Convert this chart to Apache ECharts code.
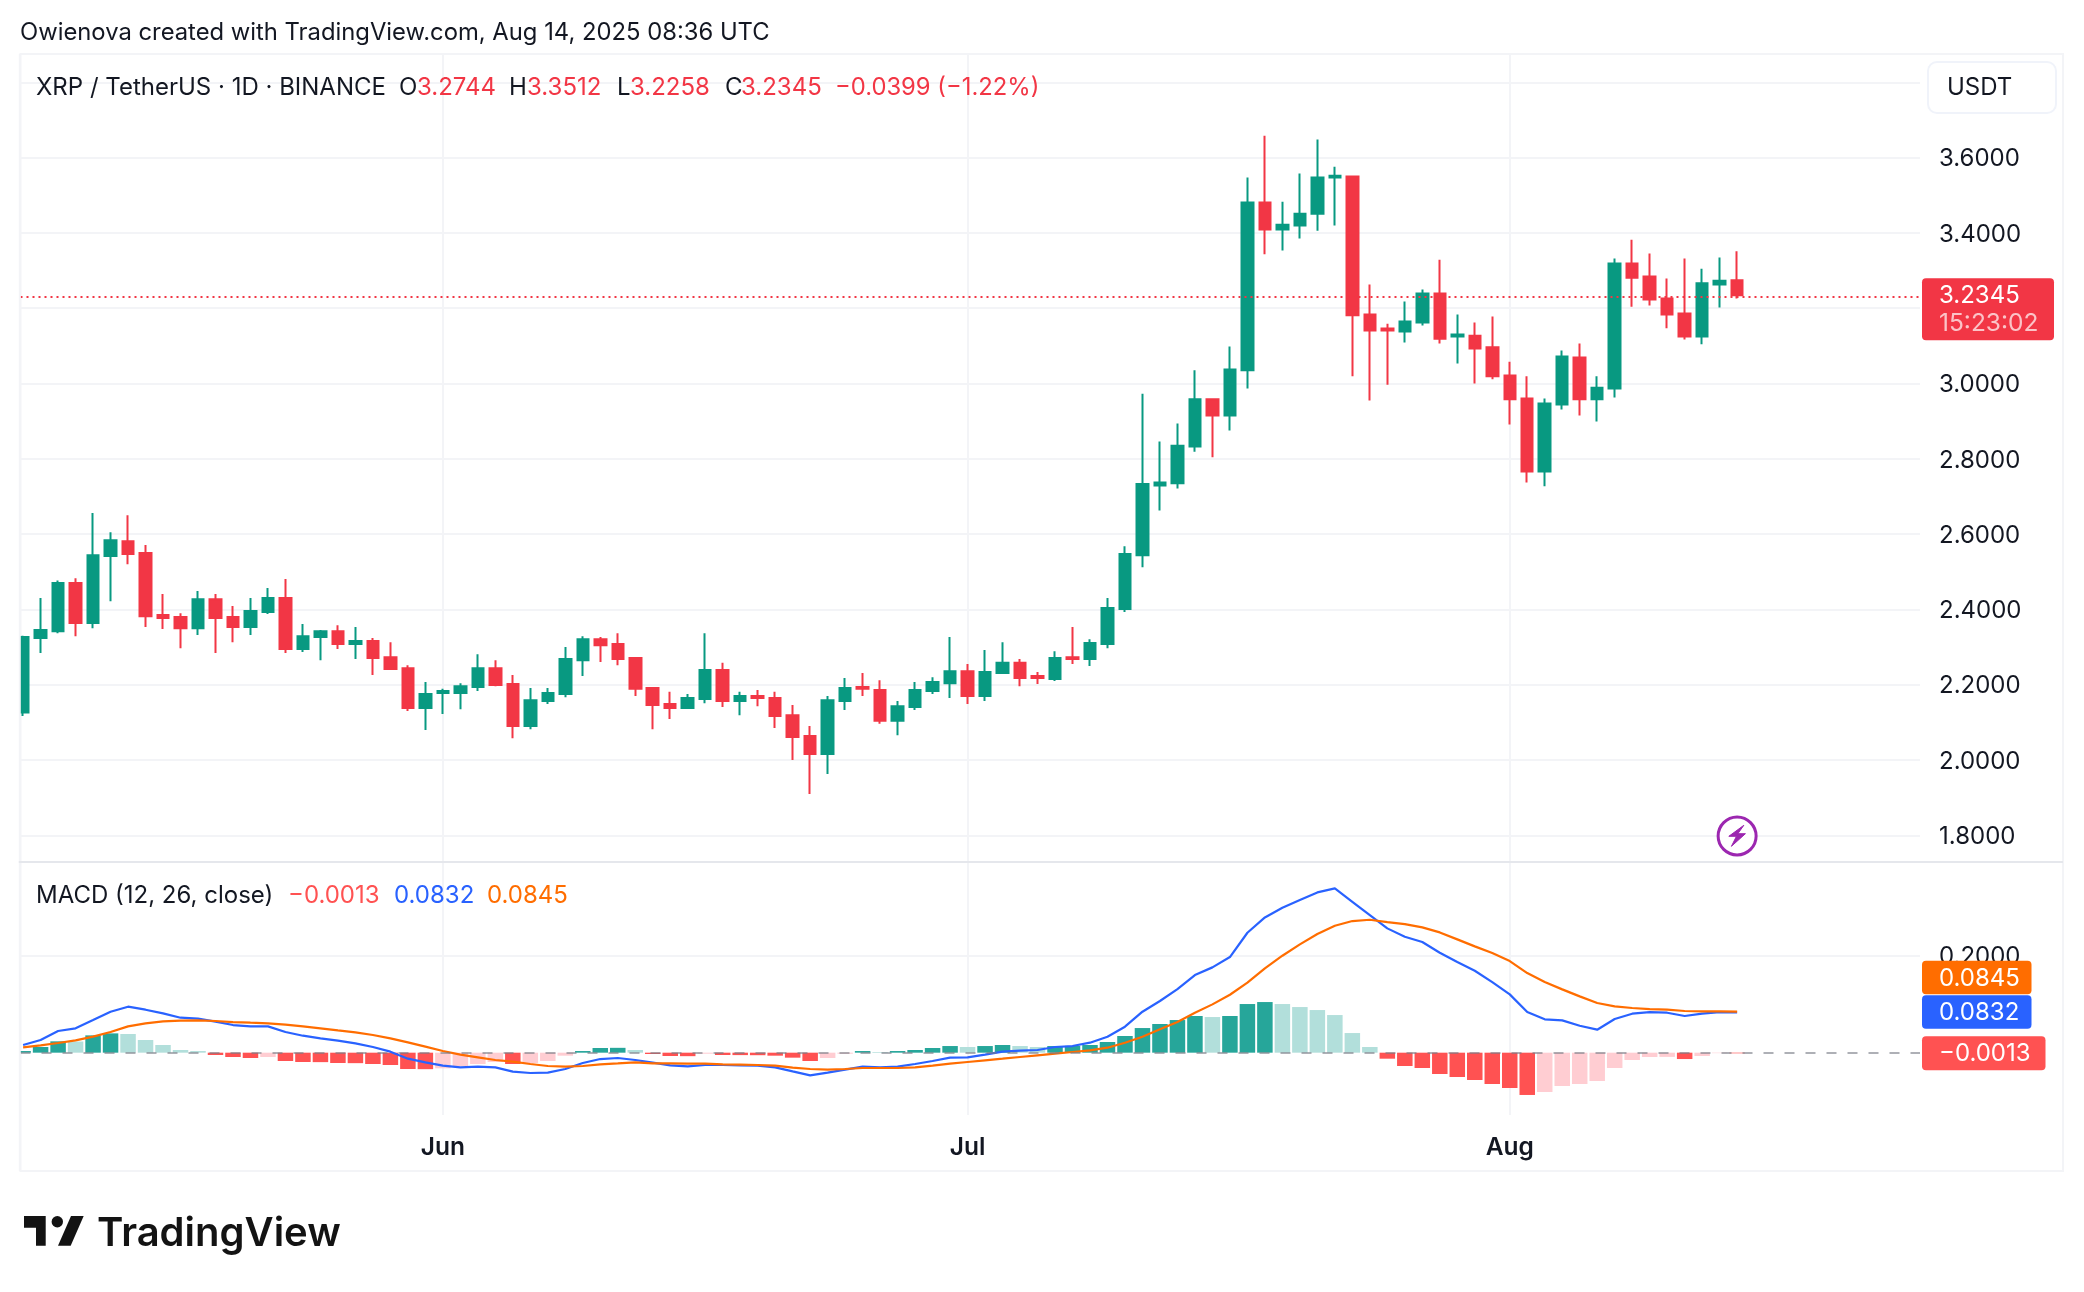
<!DOCTYPE html>
<html>
<head>
<meta charset="utf-8">
<title>XRP / TetherUS</title>
<style>
html, body { margin: 0; padding: 0; background: #fff; }
#main { width: 2084px; height: 1292px; }
</style>
<script src="https://cdn.jsdelivr.net/npm/echarts@6/dist/echarts.min.js"></script>
</head>
<body>
<div id="main"></div>
<script>
// daily candles, 8 May - 14 Aug 2025
var opens = [
  2.126, 2.324, 2.342, 2.470, 2.364, 2.542, 2.581, 2.550, 2.385, 2.380,
  2.350, 2.427, 2.380, 2.353, 2.393, 2.430, 2.295, 2.327, 2.342, 2.308,
  2.316, 2.273, 2.244, 2.138, 2.178, 2.178, 2.194, 2.244, 2.202, 2.090,
  2.157, 2.175, 2.265, 2.321, 2.308, 2.271, 2.191, 2.149, 2.138, 2.162,
  2.239, 2.157, 2.170, 2.165, 2.119, 2.064, 2.016, 2.157, 2.194, 2.186,
  2.104, 2.141, 2.183, 2.204, 2.236, 2.170, 2.231, 2.258, 2.223, 2.215,
  2.273, 2.268, 2.308, 2.401, 2.544, 2.729, 2.735, 2.833, 2.958, 2.915,
  3.035, 3.481, 3.409, 3.420, 3.451, 3.547, 3.550, 3.183, 3.146, 3.138,
  3.162, 3.239, 3.125, 3.127, 3.096, 3.021, 2.960, 2.766, 2.944, 3.069,
  2.958, 2.987, 3.319, 3.284, 3.226, 3.186, 3.125, 3.263, 3.2744
];
var closes = [
  2.327, 2.345, 2.470, 2.364, 2.544, 2.584, 2.547, 2.382, 2.377, 2.350,
  2.427, 2.377, 2.353, 2.396, 2.430, 2.295, 2.329, 2.342, 2.308, 2.316,
  2.271, 2.242, 2.138, 2.175, 2.183, 2.196, 2.244, 2.199, 2.090, 2.159,
  2.178, 2.268, 2.321, 2.305, 2.268, 2.189, 2.146, 2.138, 2.165, 2.239,
  2.157, 2.170, 2.165, 2.117, 2.061, 2.016, 2.159, 2.191, 2.189, 2.104,
  2.143, 2.186, 2.207, 2.236, 2.170, 2.234, 2.258, 2.218, 2.218, 2.271,
  2.268, 2.311, 2.404, 2.547, 2.733, 2.737, 2.835, 2.958, 2.915, 3.037,
  3.481, 3.409, 3.422, 3.451, 3.547, 3.552, 3.181, 3.141, 3.141, 3.165,
  3.239, 3.119, 3.130, 3.093, 3.019, 2.958, 2.766, 2.947, 3.072, 2.958,
  2.989, 3.319, 3.281, 3.223, 3.183, 3.125, 3.266, 3.273, 3.2345
];
var highs = [
  2.330, 2.430, 2.477, 2.483, 2.656, 2.605, 2.650, 2.571, 2.441, 2.390,
  2.449, 2.441, 2.409, 2.430, 2.457, 2.481, 2.361, 2.345, 2.358, 2.353,
  2.324, 2.313, 2.252, 2.207, 2.189, 2.204, 2.281, 2.265, 2.226, 2.191,
  2.191, 2.300, 2.329, 2.327, 2.337, 2.273, 2.191, 2.181, 2.175, 2.337,
  2.258, 2.181, 2.186, 2.181, 2.146, 2.090, 2.170, 2.218, 2.231, 2.212,
  2.157, 2.207, 2.220, 2.327, 2.255, 2.292, 2.313, 2.268, 2.234, 2.289,
  2.353, 2.321, 2.430, 2.568, 2.973, 2.846, 2.894, 3.035, 2.958, 3.098,
  3.547, 3.658, 3.483, 3.558, 3.648, 3.576, 3.552, 3.263, 3.159, 3.218,
  3.250, 3.329, 3.183, 3.162, 3.178, 3.058, 3.019, 2.960, 3.088, 3.106,
  3.019, 3.332, 3.382, 3.345, 3.279, 3.332, 3.305, 3.335, 3.3512
];
var lows = [
  2.117, 2.284, 2.337, 2.329, 2.350, 2.422, 2.520, 2.353, 2.348, 2.297,
  2.332, 2.284, 2.313, 2.332, 2.388, 2.284, 2.287, 2.265, 2.295, 2.268,
  2.226, 2.239, 2.130, 2.080, 2.122, 2.135, 2.183, 2.196, 2.058, 2.082,
  2.149, 2.167, 2.223, 2.260, 2.252, 2.170, 2.082, 2.109, 2.138, 2.151,
  2.141, 2.119, 2.143, 2.085, 2.000, 1.910, 1.963, 2.133, 2.170, 2.096,
  2.066, 2.133, 2.175, 2.165, 2.149, 2.157, 2.231, 2.196, 2.202, 2.210,
  2.255, 2.250, 2.297, 2.393, 2.512, 2.663, 2.721, 2.819, 2.804, 2.875,
  2.987, 3.343, 3.353, 3.385, 3.406, 3.420, 3.019, 2.955, 2.997, 3.109,
  3.154, 3.106, 3.053, 3.000, 3.011, 2.891, 2.737, 2.727, 2.931, 2.915,
  2.899, 2.963, 3.204, 3.207, 3.147, 3.117, 3.104, 3.202, 3.2258
];
var macdLine = [
  0.0158, 0.0261, 0.0447, 0.0502, 0.0673, 0.0845, 0.0948, 0.0886, 0.0811, 0.0721,
  0.0701, 0.0639, 0.0570, 0.0543, 0.0543, 0.0426, 0.0350, 0.0295, 0.0247, 0.0192,
  0.0117, 0.0021, -0.0124, -0.0199, -0.0268, -0.0302, -0.0289, -0.0302, -0.0392, -0.0419,
  -0.0412, -0.0337, -0.0213, -0.0131, -0.0110, -0.0151, -0.0206, -0.0261, -0.0282, -0.0254,
  -0.0254, -0.0261, -0.0268, -0.0302, -0.0385, -0.0467, -0.0412, -0.0350, -0.0289, -0.0302,
  -0.0289, -0.0234, -0.0172, -0.0103, -0.0096, -0.0041, 0.0021, 0.0041, 0.0055, 0.0117,
  0.0137, 0.0206, 0.0330, 0.0536, 0.0845, 0.1065, 0.1312, 0.1601, 0.1759, 0.1972,
  0.2473, 0.2789, 0.2988, 0.3146, 0.3304, 0.3387, 0.3112, 0.2837, 0.2563, 0.2391,
  0.2281, 0.2061, 0.1869, 0.1690, 0.1456, 0.1202, 0.0838, 0.0687, 0.0666, 0.0556,
  0.0474, 0.0694, 0.0804, 0.0838, 0.0824, 0.0756, 0.0804, 0.0838, 0.0832
];
var signalLine = [
  0.0110, 0.0151, 0.0199, 0.0254, 0.0330, 0.0426, 0.0543, 0.0605, 0.0646, 0.0660,
  0.0666, 0.0653, 0.0632, 0.0618, 0.0605, 0.0577, 0.0543, 0.0502, 0.0460, 0.0419,
  0.0364, 0.0295, 0.0213, 0.0124, 0.0034, -0.0041, -0.0096, -0.0151, -0.0185, -0.0234,
  -0.0275, -0.0289, -0.0275, -0.0240, -0.0220, -0.0199, -0.0220, -0.0220, -0.0227, -0.0227,
  -0.0240, -0.0247, -0.0254, -0.0268, -0.0309, -0.0337, -0.0350, -0.0337, -0.0316, -0.0316,
  -0.0316, -0.0302, -0.0268, -0.0227, -0.0192, -0.0158, -0.0124, -0.0089, -0.0055, -0.0021,
  0.0014, 0.0048, 0.0103, 0.0206, 0.0330, 0.0481, 0.0632, 0.0824, 0.0996, 0.1195,
  0.1443, 0.1738, 0.1999, 0.2233, 0.2446, 0.2617, 0.2714, 0.2741, 0.2693, 0.2652,
  0.2583, 0.2480, 0.2336, 0.2192, 0.2054, 0.1889, 0.1642, 0.1456, 0.1305, 0.1161,
  0.1024, 0.0955, 0.0921, 0.0900, 0.0886, 0.0859, 0.0852, 0.0852, 0.0845
];
var histogram = [
  0.0034, 0.0117, 0.0234, 0.0230, 0.0357, 0.0398, 0.0385, 0.0261, 0.0158, 0.0055,
  0.0034, -0.0048, -0.0089, -0.0110, -0.0089, -0.0172, -0.0192, -0.0195, -0.0213, -0.0216,
  -0.0234, -0.0254, -0.0337, -0.0340, -0.0323, -0.0275, -0.0234, -0.0192, -0.0234, -0.0213,
  -0.0172, -0.0062, 0.0034, 0.0096, 0.0100, 0.0055, -0.0027, -0.0069, -0.0072, -0.0021,
  -0.0048, -0.0050, -0.0052, -0.0062, -0.0103, -0.0172, -0.0110, -0.0021, 0.0034, 0.0014,
  0.0034, 0.0055, 0.0096, 0.0137, 0.0117, 0.0137, 0.0158, 0.0137, 0.0117, 0.0137,
  0.0140, 0.0158, 0.0220, 0.0344, 0.0508, 0.0591, 0.0673, 0.0756, 0.0735, 0.0756,
  0.1003, 0.1044, 0.1003, 0.0941, 0.0879, 0.0776, 0.0405, 0.0117, -0.0124, -0.0275,
  -0.0316, -0.0440, -0.0502, -0.0563, -0.0646, -0.0728, -0.0872, -0.0811, -0.0687, -0.0646,
  -0.0584, -0.0316, -0.0151, -0.0089, -0.0087, -0.0131, -0.0069, -0.0010, -0.0013
];
var monthDays = [24, 54, 85];
var monthLabels = ['Jun', 'Jul', 'Aug'];
var priceTicks = [1.8, 2.0, 2.2, 2.4, 2.6, 2.8, 3.0, 3.2, 3.4, 3.6, 3.8];
var priceLabels = [1.8, 2.0, 2.2, 2.4, 2.6, 2.8, 3.0, 3.2, 3.4, 3.6];
var macdTicks = [0.2];
var lastPrice = 3.2345;
var lastMacd = 0.0832;
var lastSignal = 0.0845;
var lastHist = -0.0013;

var GREEN = '#089981', RED = '#F23645', INK = '#131722', GRID = '#F3F4F7';
var FONT = 'Inter';
var LEFT = 20.5, RIGHT = 1920;

var candles = opens.map(function (o, i) {
  return [i, o, closes[i], lows[i], highs[i]];
});

// same colouring rule as the TradingView histogram
var histData = histogram.map(function (v, i) {
  var prev = i > 0 ? histogram[i - 1] : 0;
  var color = v >= 0 ? (v > prev ? '#26A69A' : '#B2DFDB') : (v > prev ? '#FFCDD2' : '#FF5252');
  return { value: [i, v], itemStyle: { color: color } };
});

function xAxisFor(gridIndex, withLabels) {
  return {
    type: 'value', gridIndex: gridIndex, min: -0.149, max: 108.456,
    axisLine: { show: false },
    axisTick: { show: false, customValues: monthDays },
    splitLine: { show: true, lineStyle: { color: GRID, width: 2 } },
    axisLabel: {
      show: withLabels, customValues: monthDays, margin: 20,
      color: INK, fontFamily: FONT, fontSize: 24.5, fontWeight: 600,
      formatter: function (v) { return monthLabels[monthDays.indexOf(v)]; }
    }
  };
}

function yAxisFor(gridIndex, min, max, ticks, labels) {
  return {
    type: 'value', gridIndex: gridIndex, position: 'right', min: min, max: max, scale: true,
    axisLine: { show: false },
    axisTick: { show: false, customValues: ticks },
    splitLine: { show: true, lineStyle: { color: GRID, width: 2 } },
    axisLabel: {
      customValues: labels, margin: 19, align: 'left',
      formatter: function (v) { return '{v|' + v.toFixed(4) + '}'; },
      rich: { v: { color: INK, fontFamily: FONT, fontSize: 24, padding: [3, 0, 0, 0] } }
    }
  };
}

function text(x, y, str, color, size, weight) {
  return {
    type: 'text', x: x, y: y, z: 20,
    style: {
      text: str, fill: color, fontFamily: FONT, fontSize: size,
      fontWeight: weight || 400, verticalAlign: 'middle', align: 'left'
    }
  };
}

function box(x, y, w, h, color) {
  return {
    type: 'rect', z: 15,
    shape: { x: x, y: y, width: w, height: h, r: 4 },
    style: { fill: color }
  };
}

var chart = echarts.init(document.getElementById('main'), null, { renderer: 'canvas' });

chart.setOption({
  animation: false,
  backgroundColor: '#fff',
  grid: [
    { left: LEFT, top: 54, width: RIGHT - LEFT, height: 808 },
    { left: LEFT, top: 863, width: RIGHT - LEFT, height: 252 }
  ],
  xAxis: [xAxisFor(0, false), xAxisFor(1, true)],
  yAxis: [
    yAxisFor(0, 1.7291, 3.8752, priceTicks, priceLabels),
    yAxisFor(1, -0.1285, 0.3911, macdTicks, macdTicks)
  ],
  series: [
    {
      type: 'candlestick', xAxisIndex: 0, yAxisIndex: 0, data: candles, barWidth: 12,
      itemStyle: {
        color: GREEN, color0: RED, borderColor: GREEN, borderColor0: RED, borderWidth: 2
      },
      markLine: {
        silent: true, symbol: 'none', animation: false,
        label: { show: false },
        lineStyle: { color: RED, type: [2, 4], width: 2 },
        data: [{ yAxis: lastPrice }]
      }
    },
    {
      type: 'bar', xAxisIndex: 1, yAxisIndex: 1, data: histData, barWidth: 15.5,
      markLine: {
        silent: true, symbol: 'none', animation: false,
        label: { show: false },
        lineStyle: { color: '#787B86', opacity: 0.6, type: [10, 11], width: 2 },
        data: [{ yAxis: 0 }]
      }
    },
    {
      type: 'line', xAxisIndex: 1, yAxisIndex: 1, showSymbol: false,
      data: macdLine.map(function (v, i) { return [i, v]; }),
      lineStyle: { color: '#2962FF', width: 2.2 }
    },
    {
      type: 'line', xAxisIndex: 1, yAxisIndex: 1, showSymbol: false,
      data: signalLine.map(function (v, i) { return [i, v]; }),
      lineStyle: { color: '#FF6D00', width: 2.2 }
    }
  ]
});

// overlays: header, legends, logo and the value tags on the price scale
var priceY = chart.convertToPixel({ yAxisIndex: 0 }, lastPrice);
var macdY = chart.convertToPixel({ yAxisIndex: 1 }, lastMacd);
var histY = chart.convertToPixel({ yAxisIndex: 1 }, lastHist);
var iconX = chart.convertToPixel({ xAxisIndex: 0 }, 98);
var iconY = 836;

var graphics = [
  {
    type: 'rect', z: -1, silent: true,
    shape: { x: 20.5, y: 54, width: 2042.5, height: 1117 },
    style: { fill: 'none', stroke: '#F3F4F7', lineWidth: 2 }
  },
  // the candlestick series does not trim partly visible candles at the pane edge
  {
    type: 'rect', z: 14, silent: true,
    shape: { x: 0, y: 56, width: 19, height: 1110 },
    style: { fill: '#fff' }
  },
  {
    type: 'line', z: 14, silent: true,
    shape: { x1: 19.8, y1: 54, x2: 19.8, y2: 1171 },
    style: { stroke: '#F3F4F7', lineWidth: 2 }
  },
  {
    type: 'line', z: 15, silent: true,
    shape: { x1: 18.8, y1: 862, x2: 2063, y2: 862 },
    style: { stroke: '#E5E7EC', lineWidth: 2 }
  },
  text(20, 33, 'Owienova created with TradingView.com, Aug 14, 2025 08:36 UTC', INK, 23.8),
  text(36, 87.5, 'XRP / TetherUS · 1D · BINANCE', INK, 24),
  text(399, 87.5, 'O', INK, 24), text(417, 87.5, '3.2744', RED, 24),
  text(509, 87.5, 'H', INK, 24), text(527, 87.5, '3.3512', RED, 24),
  text(617, 87.5, 'L', INK, 24), text(630, 87.5, '3.2258', RED, 24),
  text(725, 87.5, 'C', INK, 24), text(741, 87.5, '3.2345', RED, 24),
  text(835, 87.5, '−0.0399 (−1.22%)', RED, 23.8),
  text(36, 895.5, 'MACD (12, 26, close)', INK, 24),
  text(288, 895.5, '−0.0013', '#FF5252', 24),
  text(394, 895.5, '0.0832', '#2962FF', 24),
  text(487, 895.5, '0.0845', '#FF6D00', 24),
  {
    type: 'rect', z: 15,
    shape: { x: 1928, y: 62, width: 128, height: 51, r: 9 },
    style: { fill: '#fff', stroke: '#F0F3FA', lineWidth: 2 }
  },
  text(1947, 88, 'USDT', INK, 24),
  box(1922, priceY - 17, 132, 62, RED),
  text(1939, priceY + 0.5, '3.2345', '#fff', 24),
  text(1939, priceY + 28, '15:23:02', 'rgba(255,255,255,0.7)', 24.5),
  box(1922, macdY - 51.5, 109.5, 33.5, '#FF6D00'),
  text(1939, macdY - 34, '0.0845', '#fff', 24),
  box(1922, macdY - 17, 109.5, 33.5, '#2962FF'),
  text(1939, macdY + 0.5, '0.0832', '#fff', 24),
  box(1922, histY - 17, 123.5, 34, '#FF5252'),
  text(1939, histY + 0.5, '−0.0013', '#fff', 24),
  // latest-update marker
  {
    type: 'circle', z: 12,
    shape: { cx: iconX, cy: iconY, r: 19 },
    style: { fill: '#fff', stroke: '#9C27B0', lineWidth: 3 }
  },
  {
    type: 'polygon', z: 13,
    shape: {
      points: [
        [iconX + 6.7, iconY - 10.7], [iconX - 8.3, iconY + 0.3], [iconX - 0.7, iconY + 0.3],
        [iconX - 5.7, iconY + 10.3], [iconX + 8.3, iconY - 2.3], [iconX + 0.7, iconY - 2.3]
      ]
    },
    style: { fill: '#9C27B0', stroke: '#9C27B0', lineWidth: 1 }
  },
  // logo
  {
    type: 'polygon', z: 13,
    shape: { points: [[24, 1216], [45.7, 1216], [45.7, 1245.7], [36, 1245.7], [36, 1227.7], [24, 1227.7]] },
    style: { fill: '#131313' }
  },
  { type: 'circle', z: 13, shape: { cx: 57.3, cy: 1221.7, r: 5.7 }, style: { fill: '#131313' } },
  {
    type: 'polygon', z: 13,
    shape: { points: [[71, 1216], [83.7, 1216], [70.7, 1245.7], [58, 1245.7]] },
    style: { fill: '#131313' }
  },
  text(97, 1234, 'TradingView', '#131313', 40, 600)
];

chart.setOption({ graphic: graphics });
</script>
</body>
</html>
